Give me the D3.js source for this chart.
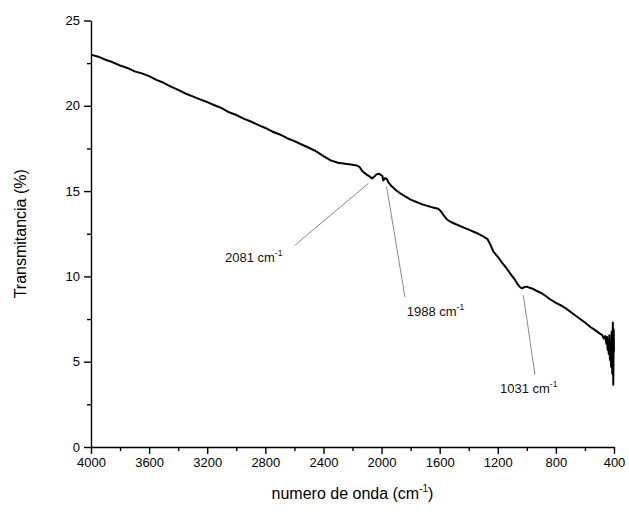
<!DOCTYPE html>
<html>
<head>
<meta charset="utf-8">
<script src="https://cdn.jsdelivr.net/npm/d3@7"></script>
<style>
    body { margin: 0; background: #fff; }
    svg { font-family: "Liberation Sans", Arial, sans-serif; }
    .axis path, .axis line { stroke: #000; stroke-width: 1.4; }
    .axis text { font-size: 13px; fill: #000; }
</style>
</head>
<body>
<svg width="629" height="514"></svg>
<script>
// numero de onda (cm-1)
const wavenumbers = [4000, 3950, 3900, 3850, 3800, 3750, 3700, 3650, 3600, 3550, 3500, 3450, 3400, 3350, 3300, 3250, 3200, 3150, 3100, 3050, 3000, 2950, 2900, 2850, 2800, 2750, 2700, 2650, 2600, 2550, 2500, 2450, 2400, 2350, 2300, 2250, 2200, 2170, 2150, 2130, 2100, 2081, 2065, 2050, 2035, 2020, 2005, 1995, 1988, 1980, 1965, 1950, 1930, 1900, 1870, 1840, 1800, 1760, 1720, 1680, 1640, 1610, 1590, 1570, 1550, 1530, 1500, 1450, 1400, 1350, 1300, 1270, 1250, 1230, 1200, 1170, 1140, 1110, 1080, 1060, 1045, 1031, 1015, 1000, 980, 960, 940, 920, 900, 870, 840, 800, 760, 720, 680, 640, 600, 560, 530, 500, 480, 470, 460, 452, 448, 444, 440, 436, 432, 428, 424, 420, 416, 412, 408, 405, 402, 400];
// Transmitancia (%)
const transmittance = [23.0, 22.88, 22.70, 22.55, 22.36, 22.22, 22.02, 21.90, 21.74, 21.52, 21.35, 21.12, 20.93, 20.72, 20.55, 20.38, 20.22, 20.03, 19.86, 19.62, 19.46, 19.25, 19.08, 18.88, 18.70, 18.48, 18.32, 18.10, 17.93, 17.73, 17.54, 17.33, 17.05, 16.80, 16.66, 16.60, 16.55, 16.50, 16.40, 16.15, 15.95, 15.85, 15.74, 15.85, 15.98, 16.02, 15.95, 15.90, 15.62, 15.75, 15.72, 15.48, 15.28, 15.05, 14.86, 14.70, 14.50, 14.36, 14.22, 14.12, 14.02, 13.96, 13.80, 13.55, 13.35, 13.22, 13.10, 12.92, 12.74, 12.56, 12.35, 12.18, 11.85, 11.45, 11.15, 10.80, 10.48, 10.12, 9.78, 9.50, 9.36, 9.30, 9.38, 9.40, 9.33, 9.28, 9.18, 9.10, 9.02, 8.85, 8.66, 8.45, 8.28, 8.05, 7.80, 7.55, 7.30, 7.02, 6.85, 6.66, 6.55, 6.35, 6.50, 6.05, 6.45, 5.70, 6.30, 5.45, 6.55, 5.10, 6.20, 4.70, 6.75, 4.30, 7.30, 3.65, 6.90, 5.60];

const xTicks = [4000, 3600, 3200, 2800, 2400, 2000, 1600, 1200, 800, 400];
const yTicks = [0, 5, 10, 15, 20, 25];

// picos marcados: etiqueta, punto en la curva, fin de la linea, posicion del texto
const peakLabels = ['2081', '1988', '1031'];
const peakLineStart = [[2091, 15.45], [1965, 15.25], [1024, 8.9]];
const peakLineEnd = [[2596, 11.83], [1839, 8.79], [944, 4.22]];
const peakTextAt = [[3078, 10.84], [1827, 7.67], [1185, 3.16]];

const margin = { top: 20.5, right: 15, bottom: 67, left: 91 };
const width = 629, height = 514;

const svg = d3.select('svg');

const x = d3.scaleLinear()
    .domain([4000, 400])
    .range([margin.left, width - margin.right]);

const y = d3.scaleLinear()
    .domain([0, 25])
    .range([height - margin.bottom, margin.top]);

// ejes
const xAxis = svg.append('g')
    .attr('class', 'axis')
    .attr('transform', `translate(0,${y(0)})`)
    .call(d3.axisBottom(x).tickValues(xTicks).tickFormat(d3.format('d')).tickSize(7).tickPadding(4).tickSizeOuter(0));

svg.append('g')
    .attr('class', 'axis')
    .attr('transform', `translate(0,${y(0)})`)
    .call(d3.axisBottom(x).tickValues(d3.range(3800, 400, -400)).tickFormat('').tickSize(4).tickSizeOuter(0))
    .select('.domain').remove();

svg.append('g')
    .attr('class', 'axis')
    .attr('transform', `translate(${x(4000)},0)`)
    .call(d3.axisLeft(y).tickValues(yTicks).tickSize(7).tickPadding(4).tickSizeOuter(0));

svg.append('g')
    .attr('class', 'axis')
    .attr('transform', `translate(${x(4000)},0)`)
    .call(d3.axisLeft(y).tickValues([2.5, 7.5, 12.5, 17.5, 22.5]).tickFormat('').tickSize(4).tickSizeOuter(0))
    .select('.domain').remove();

// espectro
const points = wavenumbers.map((w, i) => [w, transmittance[i]]);

svg.append('path')
    .datum(points)
    .attr('fill', 'none')
    .attr('stroke', '#000')
    .attr('stroke-width', 2)
    .attr('stroke-linejoin', 'round')
    .attr('d', d3.line().x(d => x(d[0])).y(d => y(d[1])));

// anotaciones
peakLabels.forEach((lab, i) => {
    svg.append('line')
        .attr('x1', x(peakLineStart[i][0]))
        .attr('y1', y(peakLineStart[i][1]))
        .attr('x2', x(peakLineEnd[i][0]))
        .attr('y2', y(peakLineEnd[i][1]))
        .attr('stroke', '#555')
        .attr('stroke-width', 0.7);

    const t = svg.append('text')
        .attr('x', x(peakTextAt[i][0]))
        .attr('y', y(peakTextAt[i][1]))
        .attr('font-size', 13)
        .attr('fill', '#111');
    t.append('tspan').text(lab + ' cm');
    t.append('tspan').attr('dy', -6).attr('font-size', 8.5).text('-1');
});

// titulos
svg.append('text')
    .attr('transform', `translate(26,${(y(0) + y(25)) / 2}) rotate(-90)`)
    .attr('text-anchor', 'middle')
    .attr('font-size', 16)
    .text('Transmitancia (%)');

const xt = svg.append('text')
    .attr('x', (x(4000) + x(400)) / 2)
    .attr('y', 499)
    .attr('text-anchor', 'middle')
    .attr('font-size', 16);
xt.append('tspan').text('numero de onda (cm');
xt.append('tspan').attr('dy', -7).attr('font-size', 10).text('-1');
xt.append('tspan').attr('dy', 7).text(')');
</script>
</body>
</html>
